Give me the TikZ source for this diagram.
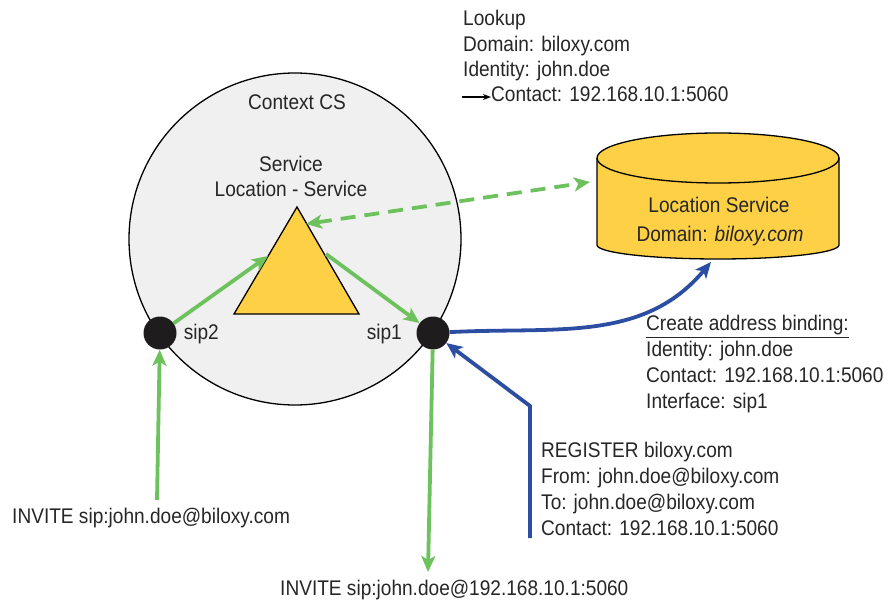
\documentclass[tikz,border=0pt]{standalone}
\usepackage{fontspec}
\setmainfont{Liberation Sans}[FakeStretch=0.9]
\usetikzlibrary{arrows.meta}
\definecolor{sipgreen}{RGB}{110,194,94}
\definecolor{sipblue}{RGB}{44,78,162}
\definecolor{svcyellow}{RGB}{253,208,70}
\definecolor{csgray}{RGB}{240,240,240}
\definecolor{dotblack}{RGB}{30,28,28}
\begin{document}
\begin{tikzpicture}[x=1pt, y=-1pt, font=\fontsize{21.2}{25.7}\selectfont]
    % Styles
    \tikzstyle{sip dot}=[circle,fill=dotblack,inner sep=0pt,minimum size=33pt]
    \tikzstyle{green arrow}=[sipgreen,line width=3.8pt,-{Stealth[length=16pt,width=14pt,inset=4pt]}]
    \tikzstyle{blue arrow}=[sipblue,line width=3.8pt,-{Stealth[length=16pt,width=14pt,inset=4pt]}]
    \tikzstyle{plain text}=[inner sep=0pt,text=black!85]
    \tikzstyle{text block}=[plain text,align=left,anchor=base west]

    \useasboundingbox (0,0) rectangle (893,601);

    % --- Context CS circle ---
    \draw[fill=csgray,line width=1.3pt] (295,239) circle (166);
    \node[plain text,anchor=base] (cs) at (297,110) {Context CS};

    % --- Service in the middle ---
    \node[plain text,anchor=base,align=center] (svc_title) at (291,197) {Service\\Location - Service};
    \draw[fill=svcyellow,line width=1.3pt] (297,207) coordinate (tri_top)
        -- (359,314) coordinate (tri_right) -- (234,314) coordinate (tri_left) -- cycle;
    \coordinate (tri_in)  at (268,256);
    \coordinate (tri_out) at (326,254);
    \coordinate (tri_tip) at (306,224);

    % --- Location Service database ---
    \draw[fill=svcyellow,line width=1.3pt] (597,158) -- (597,245)
        arc[start angle=180,end angle=0,x radius=121,y radius=14] -- (839,158)
        arc[start angle=360,end angle=180,x radius=121,y radius=25] -- cycle;
    \draw[line width=1.3pt] (597,158) arc[start angle=180,end angle=0,x radius=121,y radius=25];
    \node[plain text,anchor=base] (locsvc) at (719,213) {Location Service};
    \node[plain text,anchor=base] (locdom) at (720,242) {Domain: \textit{biloxy.com}};
    \coordinate (cyl_left) at (590,182);
    \coordinate (cyl_bottom) at (711,262);

    % --- SIP interfaces ---
    \node[sip dot] (sip2) at (160,333) {};
    \node[sip dot] (sip1) at (433,333) {};
    \node[plain text,anchor=base east] (sip2_lbl) at (219,339) {sip2};
    \node[plain text,anchor=base east] (sip1_lbl) at (402,339) {sip1};

    % --- Incoming INVITE ---
    \node[plain text,anchor=base west] (invite_in) at (12,523) {INVITE sip:john.doe@biloxy.com};
    \coordinate (invite_start) at (157,500);
    \draw[green arrow] (invite_start) -- (sip2);
    \draw[green arrow] (sip2) -- (tri_in);
    \draw[green arrow] (tri_out) -- (sip1);

    % --- Outgoing INVITE ---
    \node[plain text,anchor=base west] (invite_out) at (280,595) {INVITE sip:john.doe@192.168.10.1:5060};
    \coordinate (invite_end) at (428,572);
    \draw[green arrow] (sip1) -- (invite_end);

    % --- Lookup (dashed) ---
    \draw[sipgreen,line width=3.8pt,dash pattern=on 15pt off 9pt,
        {Stealth[length=16pt,width=14pt,inset=4pt]}-{Stealth[length=16pt,width=14pt,inset=4pt]}]
        (tri_tip) -- (cyl_left);
    \node[text block] (lookup) at (463,77) {Lookup\\Domain: biloxy.com\\Identity: john.doe};
    \node[plain text,anchor=base west] (lookup_contact) at (491,102) {Contact: 192.168.10.1:5060};
    \coordinate (lookup_arrow) at (462,97);
    \draw[line width=1.4pt,-{Stealth[length=8pt,width=6pt]}] (lookup_arrow) -- (lookup_contact.west |- 0,97);

    % --- REGISTER ---
    \node[text block] (register) at (541,535) {REGISTER biloxy.com\\From: john.doe@biloxy.com\\To: john.doe@biloxy.com\\Contact: 192.168.10.1:5060};
    \coordinate (reg_start) at (530,538);
    \coordinate (reg_bend) at (530,406);
    \draw[blue arrow] (reg_start) -- (reg_bend) -- (sip1);

    % --- Address binding ---
    \draw[blue arrow] (sip1) to[out=3,in=-130] (cyl_bottom);
    \node[text block] (binding) at (646,408) {\underline{Create address binding:}\\Identity: john.doe\\Contact: 192.168.10.1:5060\\Interface: sip1};
\end{tikzpicture}
\end{document}
